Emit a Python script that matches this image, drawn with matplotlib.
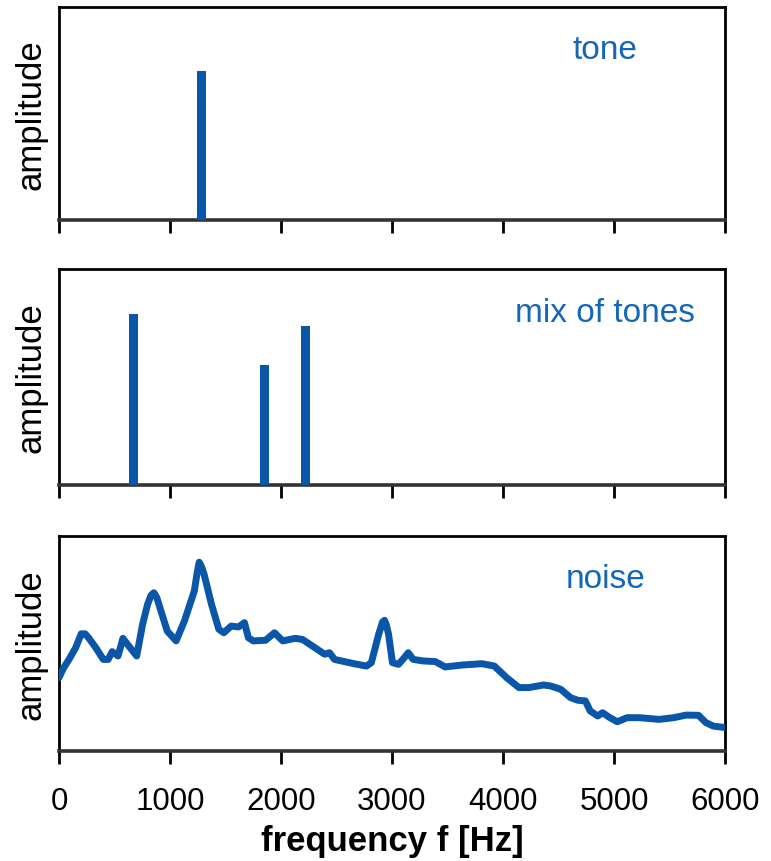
import matplotlib
matplotlib.use("Agg")
import matplotlib.pyplot as plt
import numpy as np

plt.rcParams['font.family'] = ['Liberation Sans', 'DejaVu Sans']

# data
tone_freq = [1280]
tone_amp = [0.70]
mix_freq = [670, 1850, 2220]
mix_amp = [0.79, 0.555, 0.735]
noise_freq = [0, 40, 89, 150, 200, 235, 266, 332, 399, 443, 479, 532, 576, 629, 700, 753, 798,
              830, 855, 880, 909, 975, 1055, 1130, 1219, 1245, 1263, 1282, 1307, 1374, 1440,
              1485, 1551, 1617, 1671, 1706, 1750, 1861, 1941, 2016, 2127, 2193, 2304, 2393,
              2437, 2482, 2570, 2659, 2770, 2814, 2880, 2915, 2933, 2950, 2969, 3004, 3058,
              3111, 3146, 3191, 3279, 3390, 3479, 3634, 3811, 3922, 4033, 4144, 4233, 4366,
              4432, 4520, 4609, 4675, 4742, 4786, 4853, 4897, 4963, 5030, 5118, 5229, 5406,
              5539, 5650, 5761, 5828, 5894, 6000]
noise_amp = [0.341, 0.385, 0.425, 0.48, 0.545, 0.545, 0.527, 0.48, 0.426, 0.426, 0.462, 0.442,
             0.524, 0.488, 0.442, 0.589, 0.682, 0.725, 0.736, 0.715, 0.667, 0.558, 0.512,
             0.605, 0.744, 0.83, 0.878, 0.86, 0.822, 0.682, 0.566, 0.55, 0.581, 0.577, 0.597,
             0.527, 0.512, 0.515, 0.55, 0.512, 0.524, 0.519, 0.481, 0.45, 0.457, 0.426, 0.416,
             0.406, 0.395, 0.411, 0.543, 0.6, 0.608, 0.585, 0.543, 0.411, 0.403, 0.434, 0.457,
             0.426, 0.419, 0.416, 0.391, 0.4, 0.406, 0.395, 0.341, 0.295, 0.295, 0.307, 0.302,
             0.287, 0.248, 0.236, 0.233, 0.186, 0.163, 0.178, 0.155, 0.136, 0.155, 0.155,
             0.147, 0.155, 0.167, 0.166, 0.132, 0.116, 0.109]
xticks = [0, 1000, 2000, 3000, 4000, 5000, 6000]
panel_titles = ["tone", "mix of tones", "noise"]

bar_color = "#0a56a8"
text_color = "#1466b8"

fig = plt.figure(figsize=(7.71, 8.62), dpi=100)
L, R = 59 / 771, 725 / 771
H = 862
boxes = [(8, 221), (270, 486), (537, 752)]
axes = []
for top, bot in boxes:
    ax = fig.add_axes([L, 1 - bot / H, R - L, (bot - top) / H])
    axes.append(ax)

for i, ax in enumerate(axes):
    ax.set_xlim(0, 6000)
    ax.set_ylim(0, 1)
    ax.set_xticks(xticks)
    ax.set_yticks([])
    ax.tick_params(axis='x', direction='out', length=9, width=2, color='black',
                   labelsize=22.5, pad=16)
    for s in ['left', 'right', 'top']:
        ax.spines[s].set_linewidth(2)
        ax.spines[s].set_color('black')
    ax.spines['bottom'].set_linewidth(2.6)
    ax.spines['bottom'].set_color('#333333')
    ax.set_ylabel("amplitude", fontsize=25, labelpad=8)
    ax.text(0.82, 0.8, panel_titles[i], transform=ax.transAxes, fontsize=24,
            color=text_color, ha='center', va='center')
    if i < 2:
        ax.tick_params(labelbottom=False)

axes[0].bar(tone_freq, tone_amp, width=80, color=bar_color, zorder=3)
axes[1].bar(mix_freq, mix_amp, width=80, color=bar_color, zorder=3)
axes[2].plot(noise_freq, noise_amp, color=bar_color, lw=5, solid_capstyle='round',
             solid_joinstyle='round', zorder=3)
axes[2].set_xlabel("frequency f [Hz]", fontsize=25, fontweight='bold', labelpad=6)

fig.savefig("out.png", dpi=100, facecolor='white')
